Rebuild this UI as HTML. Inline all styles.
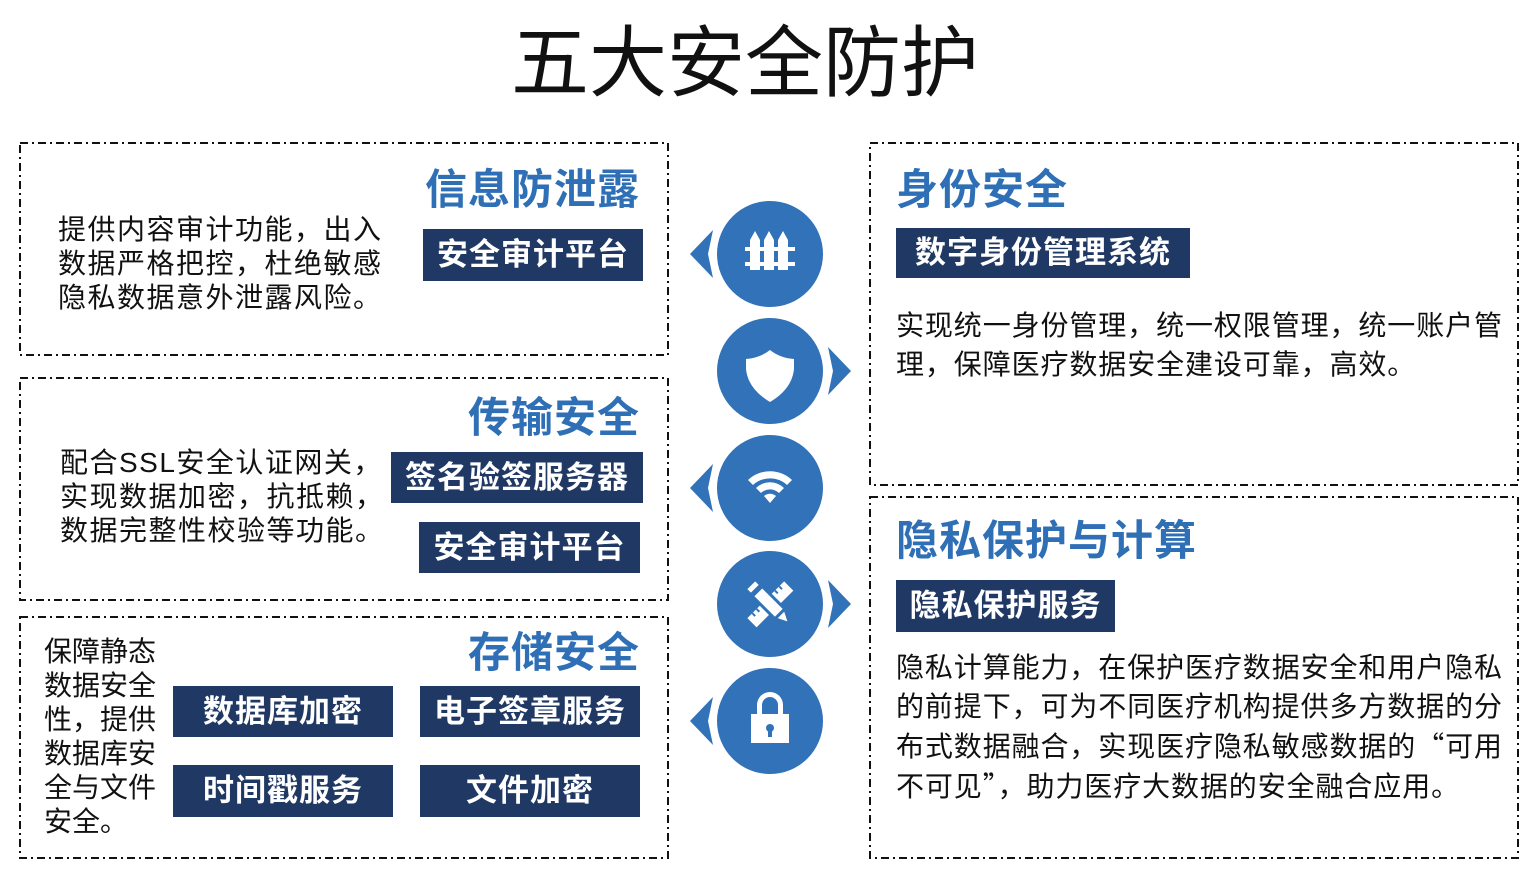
<!DOCTYPE html>
<html><head><meta charset="utf-8"><style>
body{margin:0;width:1536px;height:883px;background:#fff;position:relative;overflow:hidden;font-family:"Liberation Sans","Noto Sans CJK SC",sans-serif;}
.a{position:absolute;white-space:nowrap;}
.t{color:#2e6fb5;font-weight:bold;font-size:42px;line-height:48px;letter-spacing:1px;}
.b{background:#203864;color:#fff;font-weight:bold;font-size:31px;text-align:center;letter-spacing:1px;}
.p{font-size:28px;line-height:34px;color:#111;letter-spacing:1.5px;}
.q{font-size:28px;line-height:39px;color:#111;letter-spacing:0.9px;}
.c{font-family:"Noto Sans CJK SC",sans-serif;}
</style></head><body>
<svg class="a" style="left:0;top:0" width="1536" height="883">
<g fill="none" stroke="#111" stroke-width="2" stroke-dasharray="8 4 2 4">
<rect x="20" y="143" width="648" height="212"/>
<rect x="20" y="378" width="648" height="222"/>
<rect x="20" y="617" width="648" height="241"/>
<rect x="870" y="143" width="648" height="342"/>
<rect x="870" y="497" width="648" height="361"/>
</g>
<g fill="#3172b8">
<circle cx="770" cy="254" r="53"/><circle cx="770" cy="371" r="53"/><circle cx="770" cy="488" r="53"/><circle cx="770" cy="604" r="53"/><circle cx="770" cy="721" r="53"/>
<polygon points="690,254 713,230 708,254 713,278"/>
<polygon points="690,488 713,464 708,488 713,512"/>
<polygon points="690,721 713,697 708,721 713,745"/>
<polygon points="851,371 828,347 833,371 828,395"/>
<polygon points="851,604 828,580 833,604 828,628"/>
</g>
<g fill="#fff">
<path d="M750 240l5-9 5 9v30h-10z M764 240l5-9 5 9v30h-10z M778 240l5-9 5 9v30h-10z"/>
<rect x="745" y="247" width="50" height="4"/><rect x="745" y="262" width="50" height="4"/>
<path d="M770 350q-10 8-24 9v10q2 20 24 33q22-13 24-33v-10q-14-1-24-9z"/>
<path d="M748 480a32 32 0 0 1 44 0l-5 5a25 25 0 0 0-34 0z M756 488a20 20 0 0 1 28 0l-5 5a13 13 0 0 0-18 0z M764 496l6 7 6-7a9 9 0 0 0-12 0z"/>
</g>
<g transform="rotate(-45 770 604)">
<rect x="744" y="598" width="52" height="13" fill="#fff"/>
<g fill="#3172b8"><rect x="750" y="598" width="2" height="4"/><rect x="756" y="598" width="2" height="4"/><rect x="782" y="598" width="2" height="4"/><rect x="788" y="598" width="2" height="4"/></g>
</g>
<g transform="rotate(45 770 604)" stroke="#3172b8" stroke-width="3" fill="#fff">
<rect x="742" y="597" width="8" height="14"/>
<rect x="752" y="597" width="32" height="14"/>
<polygon points="784,597 798,604 784,611"/>
</g>
<g fill="#fff">
<rect x="751" y="714" width="38" height="29"/>
<path d="M757 714v-9a13 13 0 0 1 26 0v9h-5v-9a8 8 0 0 0-16 0v9z"/>
</g>
<circle cx="770" cy="728" r="4" fill="#3172b8"/><rect x="768" y="729" width="4" height="8" fill="#3172b8"/>
</svg>
<div class="a" style="left:0;width:1490px;top:18px;text-align:center;font-size:78px;line-height:90px;color:#111;">五大安全防护</div>

<div class="a t" style="right:896px;top:166px">信息防泄露</div>
<div class="a b" style="left:423px;top:229px;width:220px;height:52px;line-height:52px">安全审计平台</div>
<div class="a p" style="left:58px;top:213px">提供内容审计功能，出入<br>数据严格把控，杜绝敏感<br>隐私数据意外泄露风险。</div>

<div class="a t" style="right:896px;top:394px">传输安全</div>
<div class="a b" style="left:391px;top:452px;width:252px;height:51px;line-height:51px">签名验签服务器</div>
<div class="a b" style="left:419px;top:522px;width:221px;height:51px;line-height:51px">安全审计平台</div>
<div class="a p" style="left:60px;top:446px">配合SSL安全认证网关，<br>实现数据加密，抗抵赖，<br>数据完整性校验等功能。</div>

<div class="a t" style="right:896px;top:629px">存储安全</div>
<div class="a b" style="left:173px;top:686px;width:220px;height:51px;line-height:51px">数据库加密</div>
<div class="a b" style="left:420px;top:686px;width:220px;height:51px;line-height:51px">电子签章服务</div>
<div class="a b" style="left:173px;top:765px;width:220px;height:52px;line-height:52px">时间戳服务</div>
<div class="a b" style="left:420px;top:765px;width:220px;height:52px;line-height:52px">文件加密</div>
<div class="a p" style="left:44px;top:635px;letter-spacing:0">保障静态<br>数据安全<br>性，提供<br>数据库安<br>全与文件<br>安全。</div>

<div class="a t" style="left:896px;top:166px">身份安全</div>
<div class="a b" style="left:896px;top:228px;width:294px;height:50px;line-height:50px">数字身份管理系统</div>
<div class="a q" style="left:896px;top:306px">实现统一身份管理，统一权限管理，统一账户管<br>理，保障医疗数据安全建设可靠，高效。</div>

<div class="a t" style="left:896px;top:517px">隐私保护与计算</div>
<div class="a b" style="left:896px;top:580px;width:219px;height:52px;line-height:52px">隐私保护服务</div>
<div class="a q" style="left:896px;top:648px">隐私计算能力，在保护医疗数据安全和用户隐私<br>的前提下，可为不同医疗机构提供多方数据的分<br>布式数据融合，实现医疗隐私敏感数据的<span class="c">“</span>可用<br>不可见<span class="c">”</span>，助力医疗大数据的安全融合应用。</div>
</body></html>
